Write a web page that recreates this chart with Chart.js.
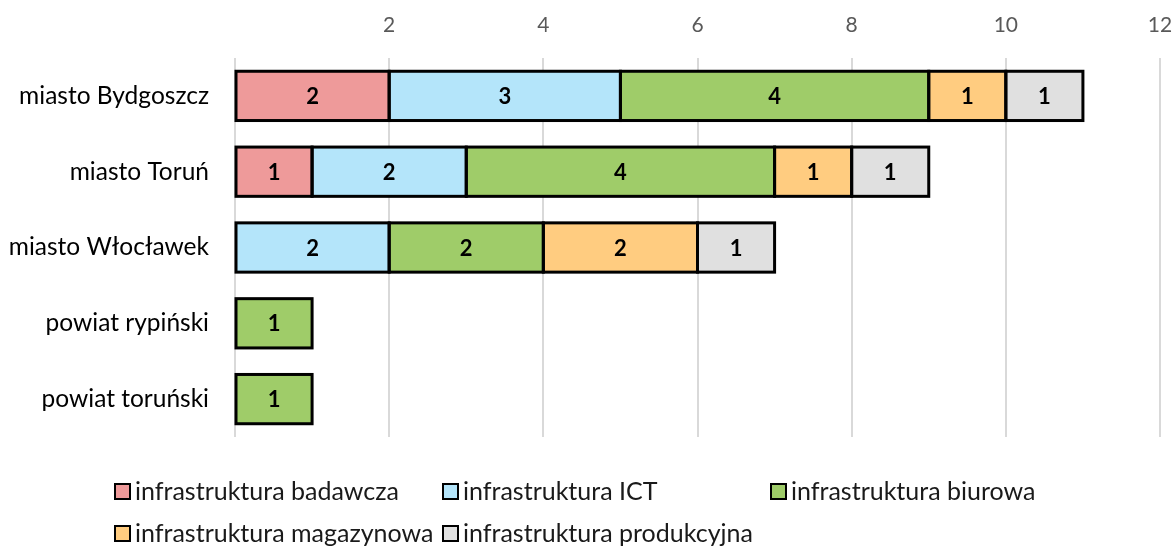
<!DOCTYPE html>
<html>
<head>
<meta charset="utf-8">
<script src="https://cdn.jsdelivr.net/npm/chart.js@4"></script>
<style>
  body { margin: 0; background: #fff; }
  #wrap { position: relative; width: 1175px; height: 551px; }
  #legend {
    position: absolute; left: 114px; top: 469px;
    display: grid; grid-template-columns: 328px 328px auto;
    font-family: Lato, sans-serif; font-size: 25px; color: #1a1a1a;
  }
  #legend .item { display: flex; align-items: center; height: 42px; line-height: 42px; white-space: nowrap; }
  #legend .box { width: 13px; height: 13px; border: 2px solid #000; margin-right: 4px; margin-top: 2px; }
</style>
</head>
<body>
<div id="wrap">
  <canvas id="chart" width="1175" height="551"></canvas>
  <div id="legend"></div>
</div>
<script>
const categories = ['miasto Bydgoszcz', 'miasto Toruń', 'miasto Włocławek', 'powiat rypiński', 'powiat toruński'];
const seriesNames = ['infrastruktura badawcza', 'infrastruktura ICT', 'infrastruktura biurowa', 'infrastruktura magazynowa', 'infrastruktura produkcyjna'];
const badawcza = [2, 1, null, null, null];
const ict = [3, 2, 2, null, null];
const biurowa = [4, 4, 2, 1, 1];
const magazynowa = [1, 1, 2, null, null];
const produkcyjna = [1, 1, 1, null, null];
const colors = ['#EE9A9A', '#B4E5FA', '#9FCC69', '#FFCC80', '#E0E0E0'];
const xMax = 12;
const xStep = 2;

const font = 'Lato, sans-serif';

// black outline round each segment + the value in its middle
const segmentLabels = {
    id: 'segmentLabels',
    afterDatasetsDraw(chart) {
        const c = chart.ctx;
        c.save();
        c.lineWidth = 3;
        c.strokeStyle = '#000';
        chart.data.datasets.forEach((ds, i) => {
            chart.getDatasetMeta(i).data.forEach((bar, j) => {
                if (ds.data[j] == null) return;
                const p = bar.getProps(['x', 'y', 'base', 'height'], true);
                c.strokeRect(p.base, p.y - p.height / 2, p.x - p.base, p.height);
            });
        });
        c.font = 'bold 22px ' + font;
        c.fillStyle = '#000';
        c.textAlign = 'center';
        c.textBaseline = 'middle';
        chart.data.datasets.forEach((ds, i) => {
            chart.getDatasetMeta(i).data.forEach((bar, j) => {
                const v = ds.data[j];
                if (v == null) return;
                const p = bar.getProps(['x', 'y', 'base'], true);
                c.fillText(String(v), (p.x + p.base) / 2, p.y + 1);
            });
        });
        c.restore();
    }
};

const chart = new Chart(document.getElementById('chart'), {
    type: 'bar',
    data: {
        labels: categories,
        datasets: [badawcza, ict, biurowa, magazynowa, produkcyjna].map((d, i) => ({
            label: seriesNames[i],
            data: d,
            backgroundColor: colors[i],
            borderWidth: 0,
            categoryPercentage: 0.65,
            barPercentage: 1
        }))
    },
    options: {
        indexAxis: 'y',
        responsive: false,
        animation: false,
        layout: { padding: { left: 0, right: 15, top: 0, bottom: 114 } },
        plugins: { legend: { display: false }, tooltip: { enabled: false } },
        scales: {
            x: {
                position: 'top',
                stacked: true,
                min: 0,
                max: xMax,
                ticks: {
                    stepSize: xStep,
                    color: '#595959',
                    font: { family: font, size: 21 },
                    padding: 20,
                    maxRotation: 0,
                    callback: v => v === 0 ? '' : v
                },
                grid: { color: '#D9D9D9', lineWidth: 2, drawTicks: false },
                border: { display: false },
                afterFit(scale) {
                    scale.height = 58;
                    scale.paddingLeft = 0;
                    scale.paddingRight = 0;
                }
            },
            y: {
                stacked: true,
                ticks: { color: '#000', font: { family: font, size: 24.5 }, padding: 18 },
                grid: { display: false },
                border: { display: false },
                afterFit(scale) { scale.width = 235; }
            }
        }
    },
    plugins: [segmentLabels]
});

// legend laid out in columns like the original
const legend = document.getElementById('legend');
chart.data.datasets.forEach(ds => {
    const item = document.createElement('div');
    item.className = 'item';
    const box = document.createElement('span');
    box.className = 'box';
    box.style.background = ds.backgroundColor;
    item.appendChild(box);
    item.appendChild(document.createTextNode(ds.label));
    legend.appendChild(item);
});
</script>
</body>
</html>
